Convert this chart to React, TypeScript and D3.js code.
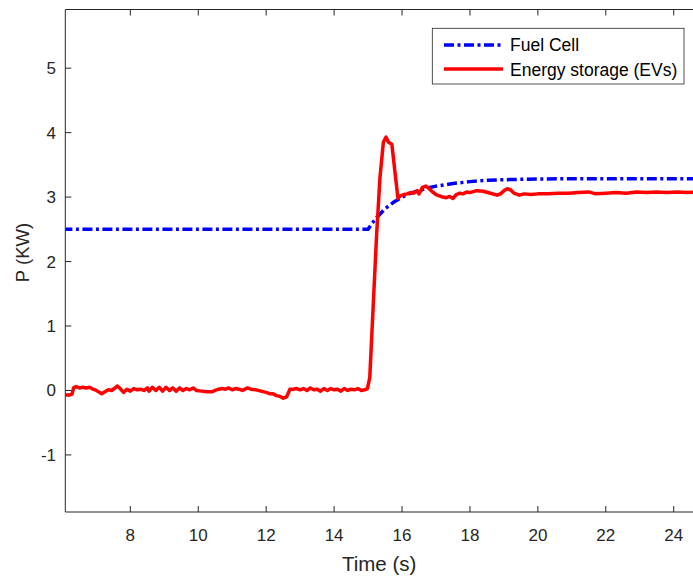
import React from "react";
import * as d3 from "d3";

const fcTime = [6.0, 15.0, 15.1, 15.25, 15.5, 15.75, 16.0, 16.25, 16.5, 16.75, 17.0, 17.5, 18.0, 18.5, 19.0, 19.5, 20.0, 21.0, 22.0, 23.0, 24.0, 24.7];
const fcValue = [2.5, 2.5, 2.58, 2.68, 2.82, 2.92, 3.0, 3.06, 3.1, 3.14, 3.17, 3.21, 3.24, 3.26, 3.27, 3.275, 3.28, 3.285, 3.285, 3.285, 3.285, 3.285];

const esTime = [6.09, 6.2, 6.28, 6.33, 6.4, 6.5, 6.6, 6.7, 6.8, 6.9, 7.0, 7.1, 7.16, 7.25, 7.35, 7.45, 7.55, 7.62, 7.7, 7.8, 7.9, 8.0, 8.1, 8.2, 8.3, 8.4, 8.5, 8.55, 8.65, 8.75, 8.85, 8.95, 9.05, 9.15, 9.25, 9.35, 9.45, 9.55, 9.65, 9.75, 9.85, 9.95, 10.1, 10.25, 10.4, 10.5, 10.6, 10.7, 10.8, 10.9, 11.0, 11.1, 11.2, 11.3, 11.45, 11.55, 11.7, 11.85, 12.0, 12.1, 12.2, 12.3, 12.4, 12.5, 12.6, 12.7, 12.8, 12.9, 13.0, 13.1, 13.2, 13.3, 13.4, 13.5, 13.6, 13.7, 13.8, 13.9, 14.0, 14.1, 14.2, 14.3, 14.4, 14.5, 14.6, 14.7, 14.8, 14.9, 14.98, 15.05, 15.15, 15.25, 15.35, 15.45, 15.53, 15.6, 15.7, 15.8, 15.88, 15.95, 16.05, 16.15, 16.25, 16.35, 16.45, 16.5, 16.6, 16.7, 16.8, 16.9, 17.0, 17.1, 17.2, 17.3, 17.4, 17.5, 17.6, 17.7, 17.8, 17.9, 18.0, 18.2, 18.4, 18.6, 18.8, 18.9, 19.0, 19.1, 19.2, 19.3, 19.45, 19.6, 19.8, 20.0, 20.3, 20.6, 20.9, 21.2, 21.5, 21.7, 22.0, 22.3, 22.6, 22.9, 23.2, 23.5, 23.8, 24.1, 24.4, 24.7];
const esValue = [-0.07, -0.07, -0.06, 0.04, 0.06, 0.04, 0.05, 0.04, 0.05, 0.02, 0.0, -0.03, -0.05, -0.02, 0.01, 0.0, 0.04, 0.07, 0.03, -0.03, 0.02, -0.01, 0.03, 0.01, 0.02, 0.0, 0.04, -0.01, 0.05, 0.0, 0.05, -0.01, 0.05, 0.0, 0.04, -0.01, 0.04, 0.0, 0.03, 0.01, 0.04, 0.0, -0.01, -0.02, -0.02, 0.0, 0.02, 0.03, 0.02, 0.04, 0.01, 0.03, 0.02, 0.0, 0.04, 0.02, 0.01, -0.01, -0.03, -0.05, -0.05, -0.08, -0.09, -0.12, -0.1, 0.02, 0.02, 0.03, 0.01, 0.03, 0.0, 0.04, 0.01, 0.02, -0.01, 0.03, 0.0, 0.03, 0.01, 0.02, -0.01, 0.03, 0.0, 0.02, 0.01, 0.03, 0.0, 0.01, 0.03, 0.2, 1.3, 2.4, 3.3, 3.85, 3.93, 3.85, 3.82, 3.35, 2.98, 3.02, 3.04, 3.05, 3.07, 3.06, 3.1, 3.05, 3.15, 3.17, 3.13, 3.08, 3.04, 3.02, 3.0, 2.99, 3.01, 2.98, 3.04, 3.06, 3.05, 3.08, 3.07, 3.1, 3.09, 3.06, 3.03, 3.05, 3.1, 3.13, 3.11, 3.06, 3.03, 3.05, 3.04, 3.05, 3.05, 3.06, 3.06, 3.07, 3.08, 3.05, 3.06, 3.07, 3.06, 3.08, 3.07, 3.08, 3.07, 3.08, 3.07, 3.08];

const xTicks = [8, 10, 12, 14, 16, 18, 20, 22, 24];
const yTicks = [-1, 0, 1, 2, 3, 4, 5];
const seriesNames = ["Fuel Cell", "Energy storage (EVs)"];

const W = 693;
const H = 576;
const L = 65.3;
const R = 693.6;
const T = 9.5;
const B = 512;
const FONT = "'Liberation Sans', Arial, Helvetica, sans-serif";
const AX = "#262626";

export default function App() {
  const x = d3.scaleLinear().domain([6.085, 24.585]).range([L, R]);
  const y = d3.scaleLinear().domain([-1.885, 5.91]).range([B, T]);
  const line = d3
    .line<[number, number]>()
    .x((d) => x(d[0]))
    .y((d) => y(d[1]));
  const fc = fcTime.map((t, i) => [t, fcValue[i]] as [number, number]);
  const es = esTime.map((t, i) => [t, esValue[i]] as [number, number]);
  const dash = "10,3.5,3,3.5";

  return (
    <svg
      width={W}
      height={H}
      style={{ position: "absolute", left: 0, top: 0, background: "#fff" }}
      fontFamily={FONT}
    >
      <rect x={0} y={0} width={W} height={H} fill="#fff" />
      <defs>
        <clipPath id="plot">
          <rect x={L} y={T} width={R - L} height={B - T} />
        </clipPath>
      </defs>
      <g clipPath="url(#plot)">
        <path d={line(fc) || ""} fill="none" stroke="#0000ff" strokeWidth={3.5} strokeDasharray={dash} />
        <path d={line(es) || ""} fill="none" stroke="#ff0000" strokeWidth={3.5} strokeLinejoin="round" />
      </g>
      <line x1={L} x2={R} y1={T} y2={T} stroke={AX} strokeWidth={1} />
      <line x1={L} x2={R} y1={B} y2={B} stroke={AX} strokeWidth={1} />
      <line x1={L} x2={L} y1={T} y2={B} stroke={AX} strokeWidth={1} />
      {xTicks.map((t) => (
        <g key={"x" + t}>
          <line x1={x(t)} x2={x(t)} y1={B} y2={B - 6} stroke={AX} />
          <line x1={x(t)} x2={x(t)} y1={T} y2={T + 6} stroke={AX} />
          <text x={x(t)} y={541} textAnchor="middle" fontSize={17} fill={AX}>
            {t}
          </text>
        </g>
      ))}
      {yTicks.map((t) => (
        <g key={"y" + t}>
          <line x1={L} x2={L + 6} y1={y(t)} y2={y(t)} stroke={AX} />
          <text x={56} y={y(t) + 6} textAnchor="end" fontSize={17} fill={AX}>
            {t}
          </text>
        </g>
      ))}
      <text x={(L + 693) / 2} y={571} textAnchor="middle" fontSize={20.5} fill={AX}>
        Time (s)
      </text>
      <text
        transform={`translate(29,${252.5}) rotate(-90)`}
        textAnchor="middle"
        fontSize={18.5}
        fill={AX}
      >
        P (KW)
      </text>
      <rect x={432.3} y={28.3} width={251.7} height={55.7} fill="#fff" stroke={AX} strokeWidth={0.8} />
      <line x1={444} x2={503} y1={45} y2={45} stroke="#0000ff" strokeWidth={3.5} strokeDasharray={dash} />
      <line x1={444} x2={503} y1={69} y2={69} stroke="#ff0000" strokeWidth={3.5} />
      <text x={510} y={51} fontSize={17.5} fill="#000">
        {seriesNames[0]}
      </text>
      <text x={510} y={75.5} fontSize={17.5} fill="#000">
        {seriesNames[1]}
      </text>
    </svg>
  );
}
